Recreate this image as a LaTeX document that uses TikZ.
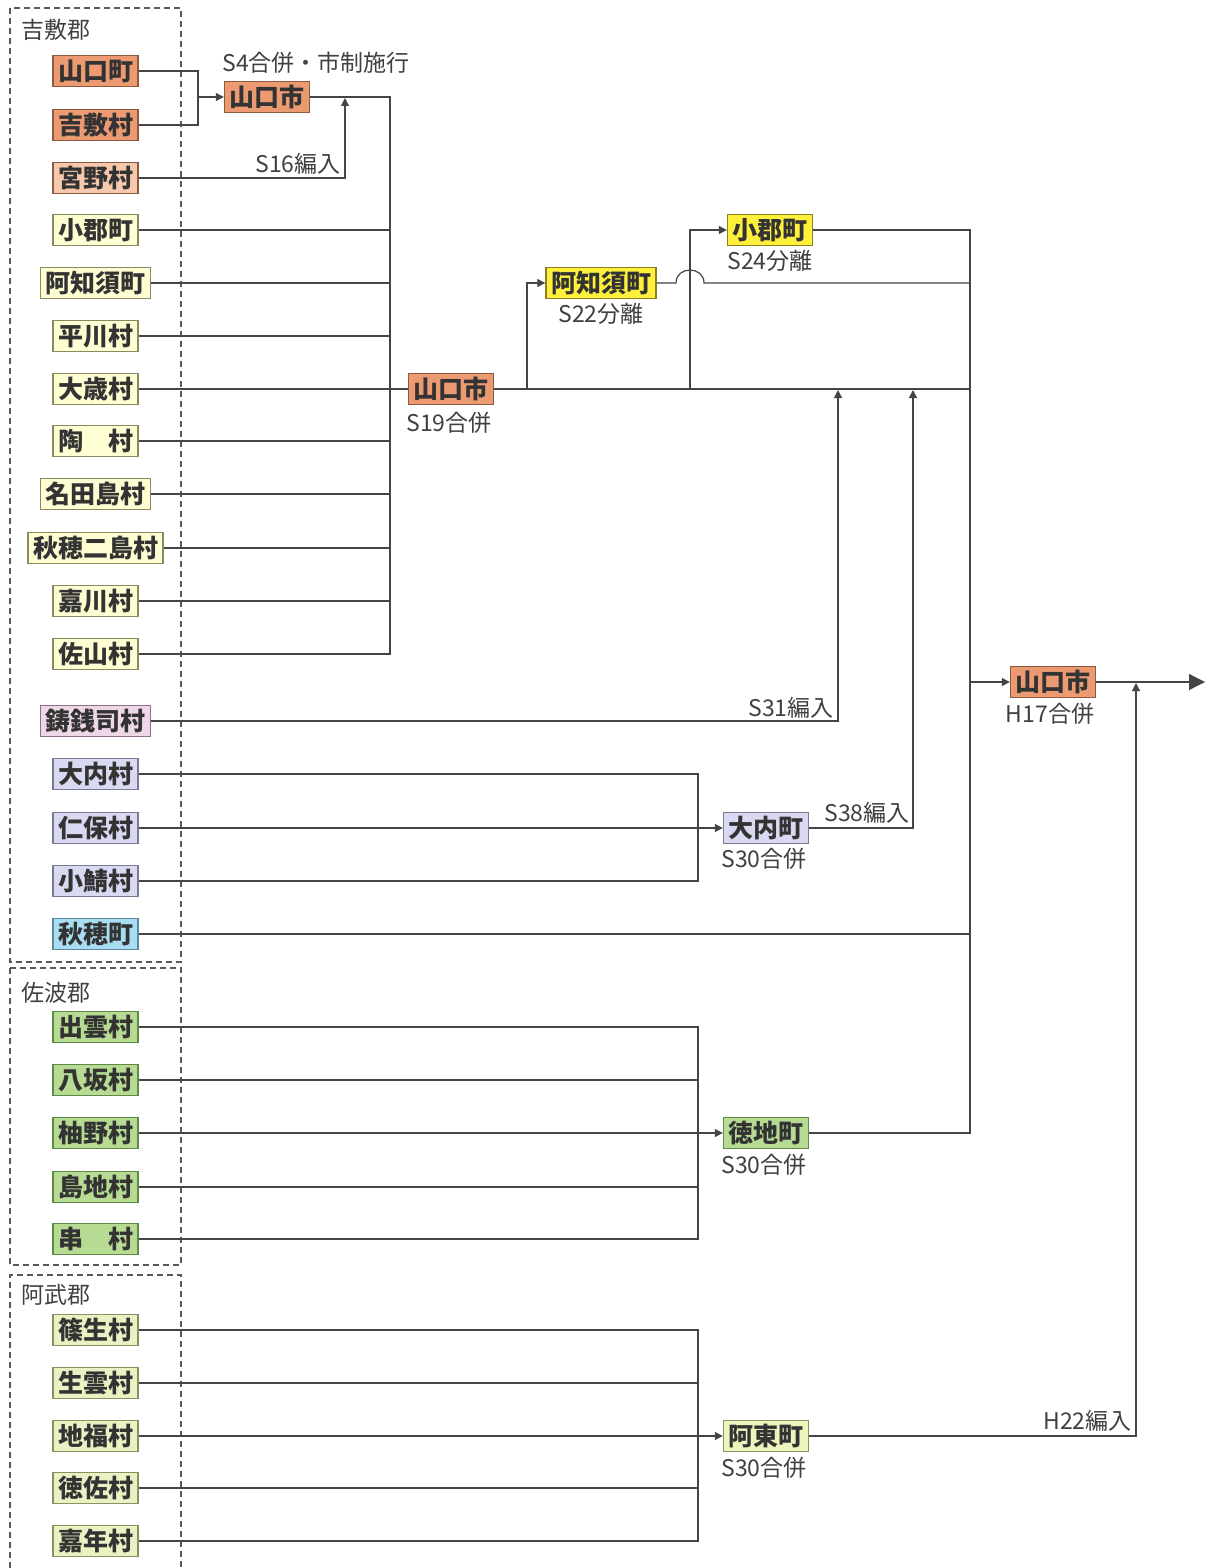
\documentclass[tikz,border=0pt]{standalone}
\usepackage{fontspec}
\setmainfont{Noto Sans CJK JP}
\usetikzlibrary{arrows.meta}
\definecolor{ln}{HTML}{454545}
\definecolor{cOr}{HTML}{EB9A72}\definecolor{bOr}{HTML}{8C5A3C}
\definecolor{cOl}{HTML}{F6C8AC}
\definecolor{cPy}{HTML}{FFFDD2}\definecolor{bPy}{HTML}{8A8A60}
\definecolor{cYe}{HTML}{FFF03C}\definecolor{bYe}{HTML}{8A8020}
\definecolor{cPk}{HTML}{EED8E8}\definecolor{bPk}{HTML}{8A708A}
\definecolor{cLv}{HTML}{D9D9F2}\definecolor{bLv}{HTML}{7A7A95}
\definecolor{cBl}{HTML}{A9DDF2}\definecolor{bBl}{HTML}{5A8AA0}
\definecolor{cGr}{HTML}{B7DB93}\definecolor{bGr}{HTML}{5F8A45}
\definecolor{cAb}{HTML}{EAF2C4}\definecolor{bAb}{HTML}{8A9060}
\definecolor{cAt}{HTML}{EEF4BC}
\begin{document}
\begin{tikzpicture}[x=0.5pt,y=-0.5pt,
  box/.style={draw=bPy, fill=cPy, line width=0.7pt, inner xsep=2.5pt, inner ysep=0pt,
    minimum height=15.5pt, font=\fontsize{12.5}{13}\selectfont\bfseries, text=black!80},
  orbox/.style={box, draw=bOr, fill=cOr},
  olbox/.style={box, draw=bOr, fill=cOl},
  yebox/.style={box, draw=bYe, fill=cYe},
  pkbox/.style={box, draw=bPk, fill=cPk},
  lvbox/.style={box, draw=bLv, fill=cLv},
  blbox/.style={box, draw=bBl, fill=cBl},
  grbox/.style={box, draw=bGr, fill=cGr},
  abbox/.style={box, draw=bAb, fill=cAb},
  lbl/.style={font=\fontsize{11.5}{12}\selectfont, text=black!75, inner sep=0pt},
  grp/.style={draw=black!65, line width=0.6pt, dash pattern=on 3pt off 2pt},
  conn/.style={draw=ln, line width=0.6pt},
  tip/.style={-{Triangle[length=4pt,width=4pt]}}
]
\useasboundingbox[fill=white] (0,0) rectangle (1205,1568);

% group frames
\draw[grp] (10,8) rectangle (181,962);
\draw[grp] (10,968) rectangle (181,1265);
\draw[grp] (10,1568) -- (10,1275) -- (181,1275) -- (181,1568);
\node[lbl, anchor=west] (g1) at (21,30) {吉敷郡};
\node[lbl, anchor=west] (g2) at (21,993) {佐波郡};
\node[lbl, anchor=west] (g3) at (21,1295) {阿武郡};

% left column
\node[orbox] (yc) at (95.5,71) {山口町};
\node[orbox] (ys) at (95.5,125) {吉敷村};
\node[olbox] (mi) at (95.5,178) {宮野村};
\node[box] (og) at (95.5,230) {小郡町};
\node[box] (aj) at (95.5,283) {阿知須町};
\node[box] (hi) at (95.5,336) {平川村};
\node[box] (ot) at (95.5,389) {大歳村};
\node[box] (su) at (95.5,441) {陶　村};
\node[box] (na) at (95.5,494) {名田島村};
\node[box] (af) at (95.5,548) {秋穂二島村};
\node[box] (ka) at (95.5,601) {嘉川村};
\node[box] (sa) at (95.5,654) {佐山村};
\node[pkbox] (ju) at (95.5,721) {鋳銭司村};
\node[lvbox] (ou) at (95.5,774) {大内村};
\node[lvbox] (ni) at (95.5,828) {仁保村};
\node[lvbox] (ks) at (95.5,881) {小鯖村};
\node[blbox] (ai) at (95.5,934) {秋穂町};
\node[grbox] (iz) at (95.5,1027) {出雲村};
\node[grbox] (ya) at (95.5,1080) {八坂村};
\node[grbox] (yu) at (95.5,1133) {柚野村};
\node[grbox] (sj) at (95.5,1187) {島地村};
\node[grbox] (ku) at (95.5,1239) {串　村};
\node[abbox] (sn) at (95.5,1330) {篠生村};
\node[abbox] (ik) at (95.5,1383) {生雲村};
\node[abbox] (ji) at (95.5,1436) {地福村};
\node[abbox] (to) at (95.5,1488) {徳佐村};
\node[abbox] (kn) at (95.5,1541) {嘉年村};

% result nodes
\node[orbox] (s4) at (267,97) {山口市};
\node[orbox] (s19) at (451,389) {山口市};
\node[yebox] (s22) at (601,283) {阿知須町};
\node[yebox] (s24) at (770,230) {小郡町};
\node[lvbox] (oc) at (766,828) {大内町};
\node[orbox] (h17) at (1053,682) {山口市};
\node[grbox] (tk) at (766,1133) {徳地町};
\node[abbox, fill=cAt] (at) at (766,1436) {阿東町};

% labels
\node[lbl, anchor=west] (l4) at (222,63) {S4合併・市制施行};
\node[lbl, anchor=south east] (l16) at (341,175) {S16編入};
\node[lbl] (l19) at (449,423) {S19合併};
\node[lbl] (l22) at (601,314) {S22分離};
\node[lbl] (l24) at (770,261) {S24分離};
\node[lbl, anchor=south east] (l31) at (834,719) {S31編入};
\node[lbl, anchor=south east] (l38) at (910,824) {S38編入};
\node[lbl] (l30a) at (764,859) {S30合併};
\node[lbl] (l17) at (1050,714) {H17合併};
\node[lbl] (l30b) at (764,1165) {S30合併};
\node[lbl] (l30c) at (764,1468) {S30合併};
\node[lbl, anchor=south east] (l22b) at (1132,1432) {H22編入};

% junction coordinates
\coordinate (b1) at (198,0);
\coordinate (b2) at (390,0);
\coordinate (b3) at (698,0);
\coordinate (bus) at (970,0);
\coordinate (j22) at (527,389);
\coordinate (j24) at (690,389);
\coordinate (a16) at (345,98);
\coordinate (a31) at (838,390);
\coordinate (a38) at (913,390);
\coordinate (a22) at (1136,683);
\coordinate (fin) at (1205,682);

% S4
\draw[conn] (yc.east) -| (b1 |- ys.east) -- (ys.east);
\draw[conn,tip] (b1 |- s4.west) -- (s4.west);
\draw[conn,tip] (mi.east) -| (a16);
% S19
\draw[conn] (s4.east) -| (b2 |- sa.east) -- (sa.east);
\foreach \v in {og,aj,hi,ot,su,na,af,ka}{\draw[conn] (\v.east) -- (b2 |- \v.east);}
\draw[conn] (b2 |- s19.west) -- (s19.west);
\draw[conn] (s19.east) -- (bus |- s19.east);
% S22 / S24
\draw[conn,tip] (j22) |- (s22.west);
\draw[conn,tip] (j24) |- (s24.west);
\draw[conn] (s22.east) -- (676,283) .. controls (676,265.7) and (704,265.7) .. (704,283) -- (bus |- s22.east);
\draw[conn] (s24.east) -| (bus |- tk.east) -- (tk.east);
% S31, S38
\draw[conn,tip] (ju.east) -| (a31);
\draw[conn] (ou.east) -| (b3 |- ks.east) -- (ks.east);
\draw[conn,tip] (ni.east) -- (oc.west);
\draw[conn,tip] (oc.east) -| (a38);
% aio
\draw[conn] (ai.east) -- (bus |- ai.east);
% tokuji
\draw[conn] (iz.east) -| (b3 |- ku.east) -- (ku.east);
\foreach \v in {ya,sj}{\draw[conn] (\v.east) -- (b3 |- \v.east);}
\draw[conn,tip] (yu.east) -- (tk.west);
% ato
\draw[conn] (sn.east) -| (b3 |- kn.east) -- (kn.east);
\foreach \v in {ik,to}{\draw[conn] (\v.east) -- (b3 |- \v.east);}
\draw[conn,tip] (ji.east) -- (at.west);
% H17, H22
\draw[conn,tip] (bus |- h17.west) -- (h17.west);
\draw[conn,-{Triangle[length=8pt,width=8pt]}] (h17.east) -- (fin);
\draw[conn,tip] (at.east) -| (a22);
\end{tikzpicture}
\end{document}
